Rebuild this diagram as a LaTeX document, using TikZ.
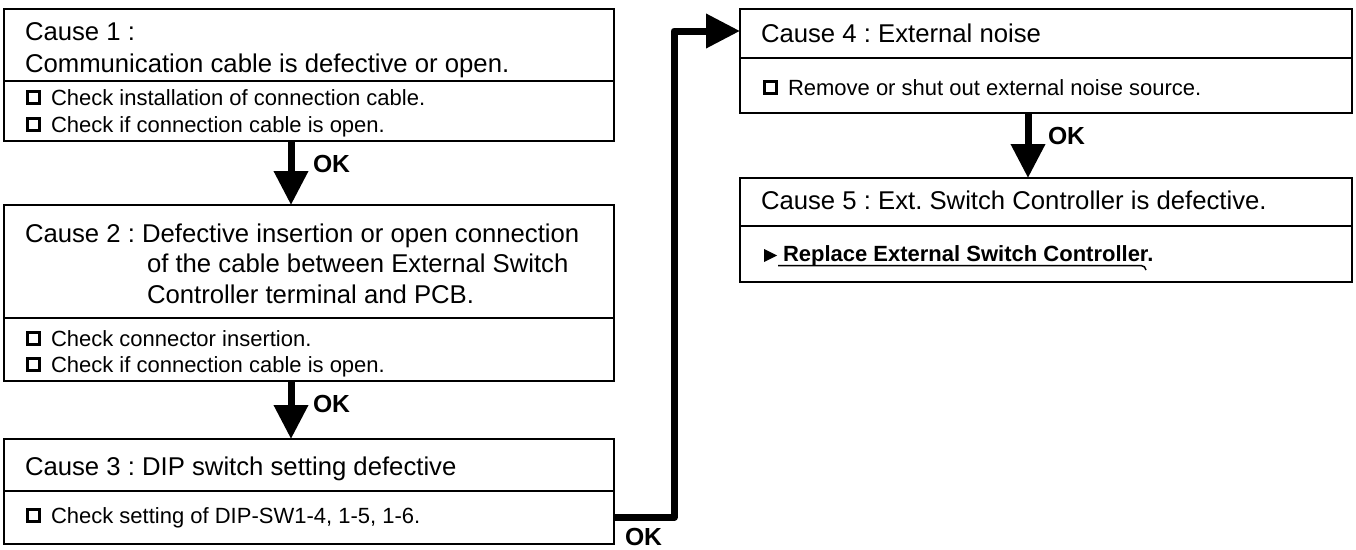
\documentclass[tikz,border=0pt]{standalone}
\usepackage{fontspec}
\setmainfont{Liberation Sans}
\usetikzlibrary{arrows.meta,calc}
\frenchspacing
\newcommand{\hdfont}{\fontsize{25.7pt}{32pt}\selectfont}
\newcommand{\itmfont}{\fontsize{22pt}{27pt}\selectfont}
\newcommand{\okfont}{\fontsize{24.7pt}{30pt}\selectfont\bfseries}
\newcommand{\cbox}{\raisebox{3pt}{\setlength{\fboxrule}{3pt}\setlength{\fboxsep}{0pt}\fbox{\hbox to 9pt{\vrule height 9pt width 0pt\hfil}}}}
\tikzset{
  boxpart/.style={draw, line width=1.8pt, inner sep=0pt, outer sep=0pt, anchor=north west},
  txt/.style={anchor=base west, inner sep=0pt, outer sep=0pt},
  hd/.style={txt, font=\hdfont},
  itm/.style={txt, font=\itmfont},
  oklab/.style={txt, font=\okfont},
  arr/.style={line width=7pt, line join=round, -{Triangle[width=33pt,length=34pt]}}
}
\begin{document}
\begin{tikzpicture}[x=1pt,y=-1pt]
\useasboundingbox (0,0) rectangle (1356,549);
% boxes
\node[boxpart, minimum width=610pt, minimum height=72pt] (c1h) at (4,9) {};
\node[boxpart, minimum width=610pt, minimum height=60pt] (c1b) at (c1h.south west) {};
\node[boxpart, minimum width=610pt, minimum height=113pt] (c2h) at (4,205) {};
\node[boxpart, minimum width=610pt, minimum height=63pt] (c2b) at (c2h.south west) {};
\node[boxpart, minimum width=610pt, minimum height=52pt] (c3h) at (4,439) {};
\node[boxpart, minimum width=610pt, minimum height=53pt] (c3b) at (c3h.south west) {};
\node[boxpart, minimum width=612pt, minimum height=49pt] (c4h) at (740,9) {};
\node[boxpart, minimum width=612pt, minimum height=55pt] (c4b) at (c4h.south west) {};
\node[boxpart, minimum width=612pt, minimum height=48pt] (c5h) at (740,178) {};
\node[boxpart, minimum width=612pt, minimum height=56pt] (c5b) at (c5h.south west) {};
% texts box 1
\node[hd] (t1a) at (25,40) {Cause 1 :};
\node[hd] (t1b) at (25,72) {Communication cable is defective or open.};
\node[itm] (i1a) at (26,105) {\cbox\hspace{10pt}Check installation of connection cable.};
\node[itm] (i1b) at (26,132) {\cbox\hspace{10pt}Check if connection cable is open.};
% box 2
\node[hd] (t2a) at (25,242) {Cause 2 : Defective insertion or open connection};
\node[hd] (t2b) at (147,272) {of the cable between External Switch};
\node[hd] (t2c) at (147,303) {Controller terminal and PCB.};
\node[itm] (i2a) at (26,346) {\cbox\hspace{10pt}Check connector insertion.};
\node[itm] (i2b) at (26,372) {\cbox\hspace{10pt}Check if connection cable is open.};
% box 3
\node[hd] (t3a) at (25,475) {Cause 3 : DIP switch setting defective};
\node[itm] (i3a) at (26,523) {\cbox\hspace{10pt}Check setting of DIP-SW1-4, 1-5, 1-6.};
% box 4
\node[hd] (t4a) at (761,42) {Cause 4 : External noise};
\node[itm] (i4a) at (763,95) {\cbox\hspace{10pt}Remove or shut out external noise source.};
% box 5
\node[hd] (t5a) at (761,209) {Cause 5 : Ext. Switch Controller is defective.};
\fill (764,249) -- (777,255.5) -- (764,262) -- cycle;
\node[itm, font=\itmfont\bfseries] (i5a) at (783,261) {Replace External Switch Controller.};
\draw[line width=1.5pt] (778,265.5) -- (1141,265.5) to[out=0,in=100] (1146,270);
% connectors
\draw[arr] ([xshift=-18pt]c1b.south) -- ([xshift=-18pt]c2h.north);
\draw[arr] ([xshift=-18pt]c2b.south) -- ([xshift=-18pt]c3h.north);
\draw[arr] ([xshift=-18pt]c4b.south) -- ([xshift=-18pt]c5h.north);
\draw[arr] (c3b.east) -- ++(60,0) |- ([yshift=2.5pt]c4h.west);
% OK labels
\node[oklab] (ok1) at (313,172) {OK};
\node[oklab] (ok2) at (313,412) {OK};
\node[oklab] (ok4) at (1048,144) {OK};
\node[oklab] (ok3) at (625,545) {OK};
\end{tikzpicture}
\end{document}
